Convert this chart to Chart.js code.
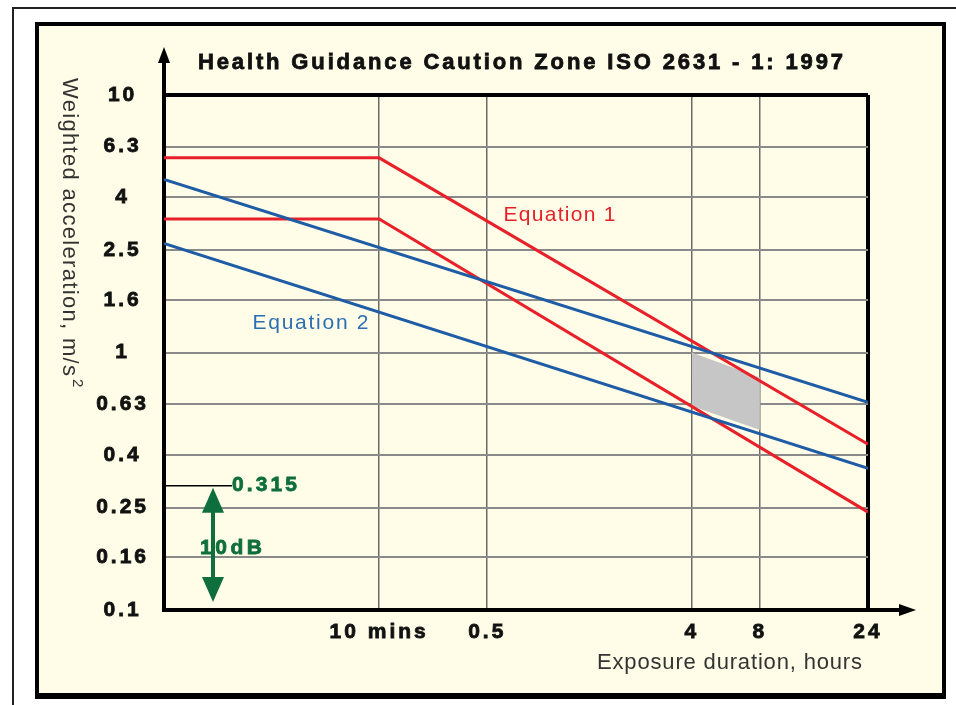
<!DOCTYPE html>
<html lang="en">
<head>
<meta charset="UTF-8">
<title>Health Guidance Caution Zone ISO 2631 - 1: 1997</title>
<script src="https://cdn.jsdelivr.net/npm/chart.js"></script>
<style>
  html, body { margin: 0; padding: 0; background: #fff; overflow: hidden; }
  #page { position: absolute; left: 12px; top: 7px; width: 960px; height: 720px; border-left: 2px solid #222; border-top: 2px solid #222; }
  #panel { position: absolute; left: 35px; top: 22px; width: 903px; height: 667px; background: #fffde7; border: 4px solid #000; border-bottom-width: 6px; }
  #chart { position: absolute; left: 0; top: 0; }
</style>
</head>
<body>
<div id="page"></div>
<div id="panel"></div>
<canvas id="chart" width="956" height="705"></canvas>

<script>
// tick marks (log scales)
const xTickValues = [1 / 6, 0.5, 4, 8, 24];
const xTickLabels = ['10 mins', '0.5', '4', '8', '24'];
const yTickValues = [0.1, 0.16, 0.25, 0.4, 0.63, 1, 1.6, 2.5, 4, 6.3, 10];
const yTickLabels = ['0.1', '0.16', '0.25', '0.4', '0.63', '1', '1.6', '2.5', '4', '6.3', '10'];

// Equation 1 (red) - flat up to 10 mins, then falling
const eq1Hours = [0.0187, 1 / 6, 24];
const eq1Upper = [5.7, 5.7, 0.44];
const eq1Lower = [3.3, 3.3, 0.24];

// Equation 2 (blue)
const eq2Hours = [0.0187, 24];
const eq2Upper = [4.7, 0.64];
const eq2Lower = [2.65, 0.355];

// shaded zone between 4 and 8 hours
const zoneHours = [4, 8];
const zoneTop = [1.0, 0.8];
const zoneBottom = [0.62, 0.5];

// 10 dB marker
const refLevel = 0.315;
const refBottom = 0.1;

const RED = '#e8202a';
const BLUE = '#1f5ca6';
const GREEN = '#0f6e3e';
const SANS = '"Liberation Sans", Arial, sans-serif';

function pts(xs, ys) {
    return xs.map((x, i) => ({ x: x, y: ys[i] }));
}

// draw text stretched to a given width with letter spacing
function spaced(ctx, text, x, y, width, heavy) {
    ctx.letterSpacing = '0px';
    const w = ctx.measureText(text).width;
    ctx.letterSpacing = ((width - w) / (text.length - 1)) + 'px';
    ctx.textAlign = 'left';
    ctx.fillText(text, x, y);
    if (heavy) {
        ctx.strokeStyle = ctx.fillStyle;
        ctx.lineWidth = 0.8;
        ctx.strokeText(text, x, y);
    }
    ctx.letterSpacing = '0px';
}

const decor = {
    id: 'decor',
    beforeDraw(chart) {
        // tick labels in the original are widely spaced
        chart.ctx.letterSpacing = '3px';
    },
    afterDraw(chart) {
        const ctx = chart.ctx;
        const { left, right, top, bottom } = chart.chartArea;
        const xs = chart.scales.x, ys = chart.scales.y;
        ctx.save();
        ctx.letterSpacing = '0px';

        // axis extensions with arrows
        ctx.strokeStyle = '#000';
        ctx.fillStyle = '#000';
        ctx.lineWidth = 4;
        ctx.beginPath();
        ctx.moveTo(left, top);
        ctx.lineTo(left, 60);
        ctx.moveTo(right, bottom);
        ctx.lineTo(902, bottom);
        ctx.stroke();
        ctx.beginPath();
        ctx.moveTo(left, 47);
        ctx.lineTo(left - 6, 63);
        ctx.lineTo(left + 6, 63);
        ctx.closePath();
        ctx.fill();
        ctx.beginPath();
        ctx.moveTo(916, bottom);
        ctx.lineTo(899, bottom - 6);
        ctx.lineTo(899, bottom + 6);
        ctx.closePath();
        ctx.fill();

        // title
        ctx.textBaseline = 'middle';
        ctx.fillStyle = '#111';
        ctx.font = 'bold 22px ' + SANS;
        spaced(ctx, 'Health Guidance Caution Zone ISO 2631 - 1: 1997', 198, 63, 645, true);

        // axis titles
        ctx.fillStyle = '#333';
        ctx.font = '22px ' + SANS;
        spaced(ctx, 'Exposure duration, hours', 597, 663, 265);

        ctx.save();
        ctx.translate(69, 78);
        ctx.rotate(Math.PI / 2);
        spaced(ctx, 'Weighted acceleration, m/s', 0, 0, 298);
        ctx.font = '15px ' + SANS;
        ctx.fillText('2', 301, -8);
        ctx.restore();

        // series labels
        ctx.font = '21px ' + SANS;
        ctx.fillStyle = RED;
        spaced(ctx, 'Equation 1', xs.getPixelForValue(0.59), ys.getPixelForValue(3.4), 112);
        ctx.fillStyle = '#2a6fb5';
        spaced(ctx, 'Equation 2', xs.getPixelForValue(0.046), ys.getPixelForValue(1.3), 116);

        // 10 dB marker
        const yRef = ys.getPixelForValue(refLevel) + 4;
        const yLow = ys.getPixelForValue(refBottom) - 8;
        const ax = left + 49;
        ctx.strokeStyle = '#000';
        ctx.lineWidth = 1.5;
        ctx.beginPath();
        ctx.moveTo(left, yRef);
        ctx.lineTo(left + 68, yRef);
        ctx.stroke();

        ctx.strokeStyle = GREEN;
        ctx.fillStyle = GREEN;
        ctx.lineWidth = 4;
        ctx.beginPath();
        ctx.moveTo(ax, yRef + 20);
        ctx.lineTo(ax, yLow - 20);
        ctx.stroke();
        ctx.beginPath();
        ctx.moveTo(ax, yRef + 2);
        ctx.lineTo(ax - 11, yRef + 27);
        ctx.lineTo(ax + 11, yRef + 27);
        ctx.closePath();
        ctx.fill();
        ctx.beginPath();
        ctx.moveTo(ax, yLow);
        ctx.lineTo(ax - 11, yLow - 25);
        ctx.lineTo(ax + 11, yLow - 25);
        ctx.closePath();
        ctx.fill();

        ctx.font = 'bold 21px ' + SANS;
        spaced(ctx, '0.315', left + 68, yRef, 65, true);
        spaced(ctx, '10dB', ax - 13, 548, 62, true);

        ctx.restore();
        ctx.letterSpacing = '0px';
    }
};

const tickFont = { family: SANS, size: 21, weight: 'bold' };

new Chart(document.getElementById('chart').getContext('2d'), {
    type: 'line',
    data: {
        datasets: [
            { label: 'zone top', data: pts(zoneHours, zoneTop), borderWidth: 0, backgroundColor: '#c6c6c6', fill: '+1', order: 5 },
            { label: 'zone bottom', data: pts(zoneHours, zoneBottom), borderWidth: 0, fill: false, order: 5 },
            { label: 'Equation 1 upper', data: pts(eq1Hours, eq1Upper), borderColor: RED, borderWidth: 3, fill: false, order: 1 },
            { label: 'Equation 1 lower', data: pts(eq1Hours, eq1Lower), borderColor: RED, borderWidth: 3, fill: false, order: 1 },
            { label: 'Equation 2 upper', data: pts(eq2Hours, eq2Upper), borderColor: BLUE, borderWidth: 3, fill: false, order: 0 },
            { label: 'Equation 2 lower', data: pts(eq2Hours, eq2Lower), borderColor: BLUE, borderWidth: 3, fill: false, order: 0 }
        ]
    },
    options: {
        responsive: false,
        animation: false,
        elements: { point: { radius: 0 }, line: { tension: 0 } },
        layout: { padding: { top: 95, right: 88, left: 0, bottom: 0 } },
        plugins: { legend: { display: false }, tooltip: { enabled: false } },
        scales: {
            x: {
                type: 'logarithmic',
                min: 0.0187,
                max: 24,
                afterBuildTicks: axis => { axis.ticks = xTickValues.map(v => ({ value: v })); },
                afterFit: axis => { axis.height = 95; },
                ticks: {
                    autoSkip: false,
                    maxRotation: 0,
                    padding: 10,
                    color: '#111',
                    textStrokeColor: '#111',
                    textStrokeWidth: 0.8,
                    font: tickFont,
                    callback: (v, i) => xTickLabels[i]
                },
                grid: {
                    drawTicks: false,
                    color: c => c.tick && c.tick.value === 24 ? '#000' : '#6a6a6a',
                    lineWidth: c => c.tick && c.tick.value === 24 ? 4 : 1.5
                },
                border: { color: '#000', width: 4 }
            },
            y: {
                type: 'logarithmic',
                min: 0.1,
                max: 10,
                afterBuildTicks: axis => { axis.ticks = yTickValues.map(v => ({ value: v })); },
                afterFit: axis => { axis.width = 164; },
                ticks: {
                    autoSkip: false,
                    padding: 21,
                    crossAlign: 'center',
                    color: '#111',
                    textStrokeColor: '#111',
                    textStrokeWidth: 0.8,
                    font: tickFont,
                    callback: (v, i) => yTickLabels[i]
                },
                grid: {
                    drawTicks: false,
                    color: c => {
                        if (!c.tick) return '#888';
                        if (c.tick.value === 10) return '#000';
                        if (c.tick.value === 0.1) return 'rgba(0,0,0,0)';
                        return '#8a8a8a';
                    },
                    lineWidth: c => c.tick && c.tick.value === 10 ? 4 : 2
                },
                border: { color: '#000', width: 4 }
            }
        }
    },
    plugins: [decor]
});
</script>
</body>
</html>
